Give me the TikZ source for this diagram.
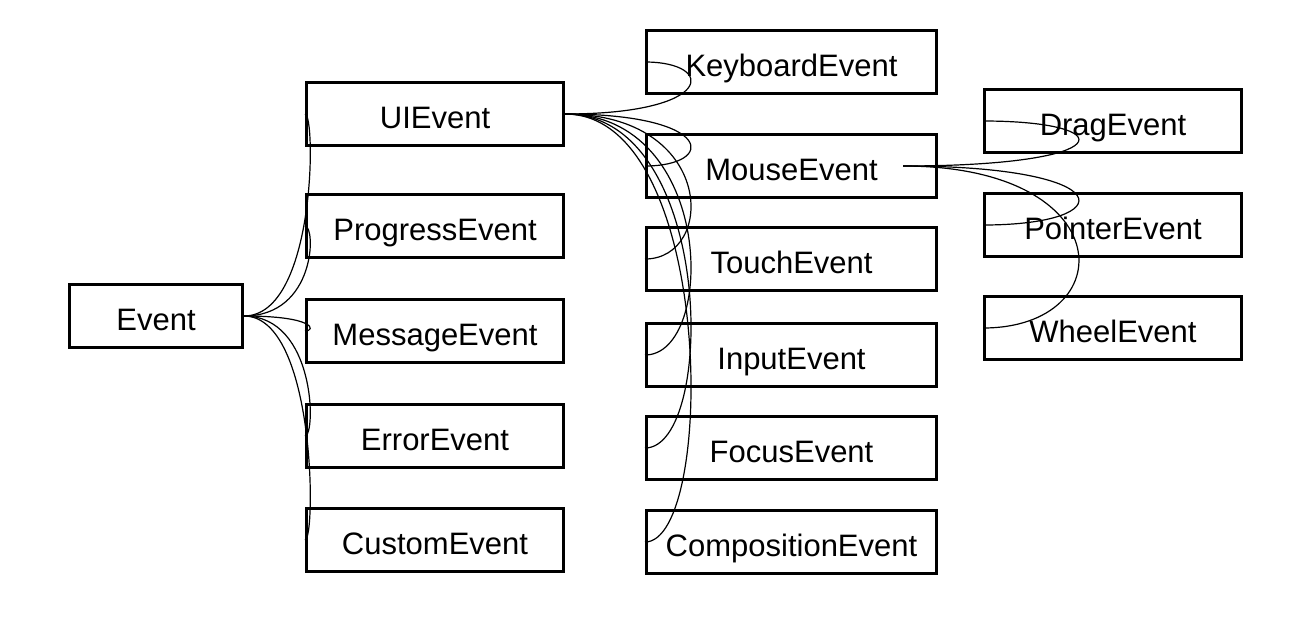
\documentclass[tikz,border=0pt]{standalone}
\usepackage{fontspec}
\setmainfont{Liberation Sans}
\usetikzlibrary{calc}

\begin{document}
\begin{tikzpicture}[
  x=0.5pt, y=-0.5pt,
  evbox/.style={draw=black, line width=1.5pt, minimum height=31.5pt, inner sep=0pt, text height=14pt, text depth=0pt, font=\fontsize{15.5}{18}\selectfont},
  basebox/.style={evbox, minimum width=86.5pt},
  midbox/.style={evbox, minimum width=128.5pt},
  widebox/.style={evbox, minimum width=145pt},
  link/.style={draw=black, line width=0.6pt}
]
\useasboundingbox (0,0) rectangle (1316,622);
% root
\node[basebox] (ev) at (156,316) {Event};
% second level
\node[midbox] (ui) at (435,114) {UIEvent};
\node[midbox] (pr) at (435,226) {ProgressEvent};
\node[midbox] (me) at (435,331) {MessageEvent};
\node[midbox] (er) at (435,436) {ErrorEvent};
\node[midbox] (cu) at (435,540) {CustomEvent};
% third level
\node[widebox] (kb) at (791.5,62) {KeyboardEvent};
\node[widebox] (ms) at (791.5,166) {MouseEvent};
\node[widebox] (to) at (791.5,259) {TouchEvent};
\node[widebox] (in) at (791.5,355) {InputEvent};
\node[widebox] (fo) at (791.5,448) {FocusEvent};
\node[widebox] (co) at (791.5,542) {CompositionEvent};
% fourth level
\node[midbox] (dr) at (1113,121) {DragEvent};
\node[midbox] (po) at (1113,225) {PointerEvent};
\node[midbox] (wh) at (1113,328) {WheelEvent};
% control columns
\coordinate (c2) at (316,0);
\coordinate (c3) at (716,0);
\coordinate (c4) at (1122,0);
\coordinate (mstail) at ($(ms.east)+(-35,0)$);
\foreach \tgt in {ui,pr,me,er,cu}
  \draw[link] (ev.east) .. controls (ev.east -| c2) and (\tgt.west -| c2) .. (\tgt.west);
\foreach \tgt in {kb,ms,to,in,fo,co}
  \draw[link] (ui.east) .. controls (ui.east -| c3) and (\tgt.west -| c3) .. (\tgt.west);
\foreach \tgt in {dr,po,wh}
  \draw[link] (mstail) .. controls (mstail -| c4) and (\tgt.west -| c4) .. (\tgt.west);
\end{tikzpicture}
\end{document}
